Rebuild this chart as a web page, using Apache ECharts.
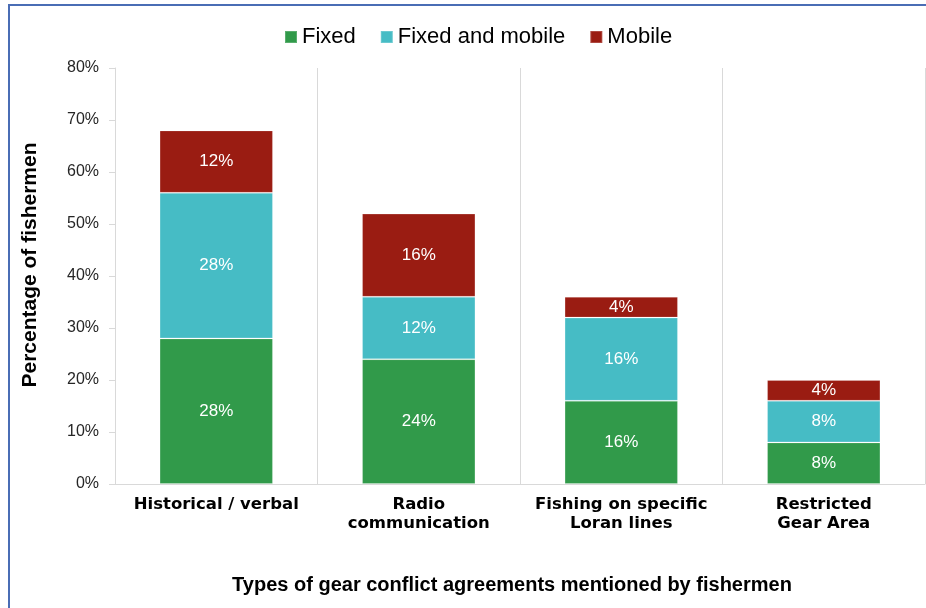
<!DOCTYPE html>
<html><head><meta charset="utf-8">
<script src="https://cdn.jsdelivr.net/npm/echarts@6/dist/echarts.min.js"></script>
<style>
html,body{margin:0;padding:0;background:#fff;}
#frame{position:absolute;left:8px;top:4px;width:940px;height:620px;border-left:2px solid #4a6db5;border-top:2px solid #4a6db5;box-sizing:border-box;}
#c{position:absolute;left:0;top:0;width:926px;height:608px;}
</style></head>
<body>
<div id="frame"></div>
<div id="c"></div>
<script>
const categories = ['Historical / verbal', 'Radio\ncommunication', 'Fishing on specific\nLoran lines', 'Restricted\nGear Area'];
const fixedVals = [28, 24, 16, 8];
const fixedMobileVals = [28, 12, 16, 8];
const mobileVals = [12, 16, 4, 4];
const yTicks = [0, 10, 20, 30, 40, 50, 60, 70, 80];

const chart = echarts.init(document.getElementById('c'));
const lbl = {show: true, position: 'inside', color: '#fff', fontSize: 17, fontFamily: 'Liberation Sans', formatter: p => p.value + '%'};
const seg = {borderColor: 'rgba(255,255,255,0.2)', borderWidth: 1};
chart.setOption({
  animation: false,
  legend: {
    top: 21, left: 279, itemWidth: 12, itemHeight: 12, itemGap: 24,
    icon: 'rect',
    textStyle: {fontSize: 22, fontFamily: 'Liberation Sans', color: '#000'},
    data: ['Fixed', 'Fixed and mobile', 'Mobile']
  },
  grid: {left: 115, right: 1, top: 68, bottom: 124},
  xAxis: {
    type: 'category', data: categories,
    axisLine: {lineStyle: {color: '#d9d9d9'}},
    axisTick: {show: false},
    splitLine: {show: true, lineStyle: {color: '#d9d9d9', width: 1}},
    axisLabel: {fontSize: 16.5, fontWeight: 'bold', fontFamily: 'DejaVu Sans', color: '#000', margin: 11, lineHeight: 19, interval: 0},
    name: 'Types of gear conflict agreements mentioned by fishermen',
    nameLocation: 'middle', nameGap: 91,
    nameTextStyle: {fontSize: 20, fontWeight: 'bold', fontFamily: 'Liberation Sans', color: '#000', padding: [0, 16, 0, 0]}
  },
  yAxis: {
    type: 'value', min: 0, max: 80, interval: 10,
    axisLine: {show: true, lineStyle: {color: '#d9d9d9'}},
    axisTick: {show: true, length: 6, lineStyle: {color: '#d9d9d9'}},
    splitLine: {show: false},
    axisLabel: {fontSize: 16, fontFamily: 'Liberation Sans', color: '#262626', margin: 16, formatter: v => yTicks.includes(v) ? v + '%' : ''},
    name: 'Percentage of fishermen',
    nameLocation: 'middle', nameGap: 74, nameRotate: 90,
    nameTextStyle: {fontSize: 21, fontWeight: 'bold', fontFamily: 'Liberation Sans', color: '#000', padding: [0, 0, 0, 22]}
  },
  series: [
    {name: 'Fixed', type: 'bar', stack: 's', data: fixedVals, barWidth: '56%', itemStyle: Object.assign({color: '#319a4a'}, seg), label: lbl},
    {name: 'Fixed and mobile', type: 'bar', stack: 's', data: fixedMobileVals, itemStyle: Object.assign({color: '#46bcc5'}, seg), label: lbl},
    {name: 'Mobile', type: 'bar', stack: 's', data: mobileVals, itemStyle: Object.assign({color: '#9a1c12'}, seg), label: lbl}
  ]
});
</script>
</body></html>
